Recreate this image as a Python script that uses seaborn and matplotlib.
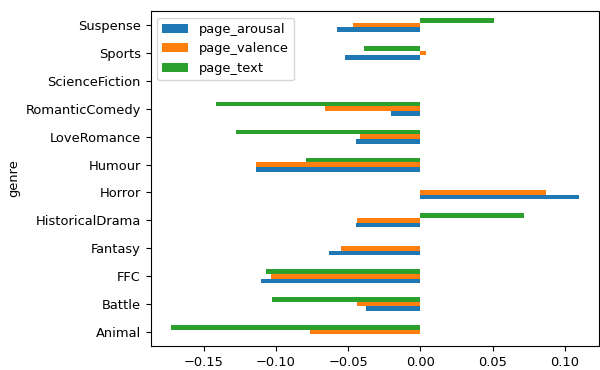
import matplotlib
matplotlib.use("Agg")
import matplotlib.pyplot as plt
import pandas as pd
import seaborn as sns

plt.rcParams["font.size"] = 9.4

genres = ["Animal", "Battle", "FFC", "Fantasy", "HistoricalDrama", "Horror",
          "Humour", "LoveRomance", "RomanticComedy", "ScienceFiction",
          "Sports", "Suspense"]
page_arousal = [0.0, -0.0375, -0.1103, -0.0629, -0.0444, 0.1097,
                -0.1135, -0.0444, -0.0200, 0.0, -0.0520, -0.0576]
page_valence = [-0.0764, -0.0437, -0.1036, -0.0546, -0.0437, 0.0871,
                -0.1135, -0.0419, -0.0659, 0.0, 0.0037, -0.0465]
page_text = [-0.1725, -0.1023, -0.1066, 0.0, 0.0714, 0.0,
             -0.0790, -0.1278, -0.1417, 0.0, -0.0389, 0.0507]

series = ["page_arousal", "page_valence", "page_text"]
wide = pd.DataFrame({"genre": genres, "page_arousal": page_arousal,
                     "page_valence": page_valence, "page_text": page_text})
long = wide.melt(id_vars="genre", value_vars=series,
                 var_name="measure", value_name="value")

fig, ax = plt.subplots(figsize=(6.0, 3.7), dpi=100)
fig.subplots_adjust(left=0.251, right=0.999, top=0.970, bottom=0.065)

sns.barplot(data=long, y="genre", x="value", hue="measure",
            order=genres, hue_order=series, orient="h",
            palette=["#1f77b4", "#ff7f0e", "#2ca02c"], saturation=1,
            width=0.5, errorbar=None, linewidth=0, ax=ax)

# first genre at the bottom, first measure lowest in each group
ax.invert_yaxis()
ax.set_xlim(-0.1866, 0.1238)
ax.set_xlabel("")
ax.set_ylabel("genre")

handles, labels = ax.get_legend_handles_labels()
ax.legend(handles, labels, loc="upper left")

fig.savefig("out.png", dpi=100)
